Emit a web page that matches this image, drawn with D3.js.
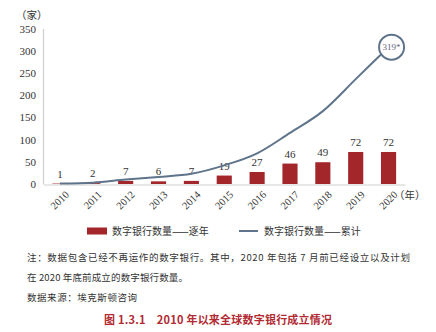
<!DOCTYPE html>
<html><head><meta charset="utf-8">
<script src="https://cdn.jsdelivr.net/npm/d3@7"></script>
<style>body{margin:0;background:#fff}svg{display:block}</style>
</head><body>
<svg id="c" width="436" height="332"></svg>
<script>
const years = ["2010","2011","2012","2013","2014","2015","2016","2017","2018","2019","2020"];
const annual = [1,2,7,6,7,19,27,46,49,72,72];
const cumulative = [1,3,10,16,23,42,69,115,164,236,308];
const yTicks = [0,50,100,150,200,250,300,350];
const lastLabel = "319*";
const legendLabels = ["数字银行数量——逐年","数字银行数量——累计"];
const notes = ["注：数据包含已经不再运作的数字银行。其中，2020 年包括 7 月前已经设立以及计划","在 2020 年底前成立的数字银行数量。","数据来源：埃克斯顿咨询"];
const title = "图 1.3.1　2010 年以来全球数字银行成立情况";

const red = "#a3262b", blue = "#5f748a", axisC = "#cfcfcf";
const serif = "'Liberation Serif','DejaVu Serif',serif";
const cjk = "'Noto Sans CJK SC','Noto Sans',sans-serif";
const svg = d3.select("#c");

const x = d3.scaleBand().domain(years).range([43.5, 405]).paddingInner(0.54).paddingOuter(0.27);
const y = d3.scaleLinear().domain([0,350]).range([184, 28.5]);
const xc = d => x(d) + x.bandwidth()/2;

// y axis
const ya = svg.append("g").attr("transform","translate(43,0)")
  .call(d3.axisLeft(y).tickValues(yTicks).tickSize(0).tickPadding(7));
ya.select(".domain").attr("stroke",axisC).attr("stroke-width",1.2);
ya.selectAll("text").attr("font-family",serif).attr("font-size",11).attr("fill","#333");

// x axis
const xa = svg.append("g").attr("transform","translate(0,184.5)")
  .call(d3.axisBottom(x).tickSize(0).tickSizeOuter(0));
xa.select(".domain").attr("stroke",axisC).attr("stroke-width",1.2);
xa.selectAll("text").attr("font-family",serif).attr("font-size",10.5).attr("fill","#333")
  .attr("text-anchor","end").attr("transform","translate(5,6) rotate(-45)").attr("dy","0.35em").attr("dx","0");

svg.append("text").attr("x",16).attr("y",19).attr("font-family",cjk).attr("font-size",10.5).attr("fill","#333").text("（家）");
svg.append("text").attr("x",394).attr("y",199).attr("font-family",cjk).attr("font-size",10.5).attr("fill","#333").text("（年）");

// bars
svg.append("g").selectAll("rect").data(annual).join("rect")
  .attr("x",(d,i)=>x(years[i])).attr("width",x.bandwidth())
  .attr("y",d=>y(d)).attr("height",d=>184-y(d)).attr("fill",red);
svg.append("g").selectAll("text").data(annual).join("text")
  .attr("x",(d,i)=>xc(years[i])).attr("y",d=>y(d)-6)
  .attr("text-anchor","middle").attr("font-family",serif).attr("font-size",11).attr("fill","#333")
  .text(d=>d);

// line
const line = d3.line().x((d,i)=>xc(years[i])).y(d=>y(d)).curve(d3.curveMonotoneX);
svg.append("path").datum(cumulative).attr("d",line).attr("fill","none").attr("stroke",blue).attr("stroke-width",2);
const li = cumulative.length-1;
svg.append("circle").attr("cx",xc(years[li])+3).attr("cy",y(cumulative[li])).attr("r",12.5)
  .attr("fill","#fff").attr("stroke",blue).attr("stroke-width",2);
svg.append("text").attr("x",xc(years[li])+3).attr("y",y(cumulative[li])).attr("dy","0.35em")
  .attr("text-anchor","middle").attr("font-family",serif).attr("font-size",9).attr("fill","#667").text(lastLabel);

// legend
svg.append("rect").attr("x",87).attr("y",227.5).attr("width",20).attr("height",7).attr("fill",red);
svg.append("text").attr("x",112).attr("y",231).attr("dy","0.35em").attr("font-family",cjk).attr("font-size",10).attr("fill","#333").text(legendLabels[0]);
svg.append("line").attr("x1",239).attr("x2",258).attr("y1",231).attr("y2",231).attr("stroke",blue).attr("stroke-width",2);
svg.append("text").attr("x",264).attr("y",231).attr("dy","0.35em").attr("font-family",cjk).attr("font-size",10).attr("fill","#333").text(legendLabels[1]);

// notes
const noteY = [258,278,298];
const noteW = [383,161,110];
notes.forEach((t,i)=>{
  svg.append("text").attr("x",27).attr("y",noteY[i]).attr("dy","0.35em")
    .attr("font-family",cjk).attr("font-size",9.5).attr("fill","#333")
    .attr("textLength",noteW[i]).attr("lengthAdjust","spacing").text(t);
});
svg.append("text").attr("x",104).attr("y",320).attr("dy","0.35em")
  .attr("font-family",cjk).attr("font-size",11).attr("font-weight","bold").attr("fill","#b22a32")
  .attr("textLength",228).attr("lengthAdjust","spacing").text(title);
</script>
</body></html>
